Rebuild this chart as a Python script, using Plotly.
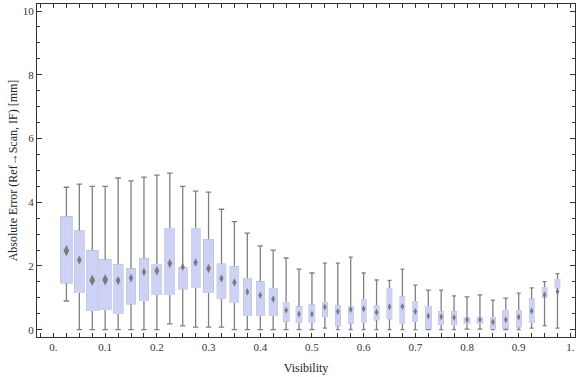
import numpy as np
import plotly.graph_objects as go

# Visibility bin centres
visibility = [0.025, 0.05, 0.075, 0.1, 0.125, 0.15, 0.175, 0.2, 0.225, 0.25,
              0.275, 0.3, 0.325, 0.35, 0.375, 0.4, 0.425, 0.45, 0.475, 0.5,
              0.525, 0.55, 0.575, 0.6, 0.625, 0.65, 0.675, 0.7, 0.725, 0.75,
              0.775, 0.8, 0.825, 0.85, 0.875, 0.9, 0.925, 0.95, 0.975]

whisker_high = [4.47, 4.57, 4.50, 4.50, 4.76, 4.67, 4.79, 4.85, 4.91, 4.50,
                4.35, 4.32, 3.78, 3.39, 3.03, 2.63, 2.50, 2.25, 1.90, 1.78,
                2.09, 2.09, 2.28, 1.78, 1.56, 1.55, 1.90, 1.40, 1.24, 1.24,
                1.06, 1.03, 1.09, 0.93, 0.99, 1.15, 1.31, 1.51, 1.76]
q3 = [3.53, 3.09, 2.47, 2.18, 2.03, 1.90, 2.22, 2.04, 3.17, 1.93,
      3.17, 2.82, 2.05, 1.97, 1.60, 1.50, 1.29, 0.85, 0.71, 0.78,
      0.85, 0.75, 0.72, 0.94, 0.75, 1.29, 1.03, 0.88, 0.72, 0.56,
      0.56, 0.38, 0.38, 0.38, 0.60, 0.60, 0.96, 1.32, 1.57]
mean = [2.48, 2.19, 1.55, 1.57, 1.54, 1.62, 1.81, 1.85, 2.08, 1.97,
        2.11, 1.92, 1.61, 1.48, 1.19, 1.08, 0.96, 0.61, 0.49, 0.49,
        0.71, 0.57, 0.63, 0.66, 0.55, 0.72, 0.73, 0.57, 0.43, 0.41,
        0.38, 0.31, 0.31, 0.24, 0.31, 0.40, 0.59, 1.10, 1.20]
q1 = [1.48, 1.17, 0.61, 0.64, 0.51, 0.82, 0.92, 1.11, 1.11, 1.29,
      1.33, 1.17, 0.98, 0.86, 0.45, 0.45, 0.45, 0.27, 0.23, 0.23,
      0.42, 0.13, 0.21, 0.23, 0.32, 0.35, 0.20, 0.26, 0.04, 0.17,
      0.17, 0.20, 0.20, 0.04, 0.06, 0.10, 0.23, 1.03, 1.32]
whisker_low = [0.90, 0.0, 0.0, 0.0, 0.0, 0.0, 0.0, 0.0, 0.18, 0.12,
               0.08, 0.08, 0.08, 0.0, 0.0, 0.0, 0.0, 0.0, 0.0, 0.0,
               0.05, 0.0, 0.0, 0.0, 0.0, 0.0, 0.0, 0.0, 0.0, 0.0,
               0.0, 0.02, 0.02, 0.0, 0.0, 0.0, 0.05, 0.13, 0.05]

x_ticks = [0.0, 0.1, 0.2, 0.3, 0.4, 0.5, 0.6, 0.7, 0.8, 0.9, 1.0]
x_ticktext = ["0.", "0.1", "0.2", "0.3", "0.4", "0.5", "0.6", "0.7", "0.8", "0.9", "1."]
y_ticks = [0, 2, 4, 6, 8, 10]
y_ticktext = ["0", "2", "4", "6", "8", "10"]

# style: drawn box widths in pixels
box_width_px = [10.7, 8.7, 11, 11, 9, 8.3, 8, 9, 9, 8, 8, 9, 8, 8, 7, 7, 7.3, 5, 5, 5,
                4, 4, 4, 4, 4, 4, 4, 4, 5, 4, 4, 5, 5, 4, 5, 4, 4, 4, 4]

PX_PER_UNIT = 517.2
FILL = "rgb(204,210,245)"
GRAY = "rgb(128,128,128)"
DIAM = "rgb(112,112,112)"
FONT = "Liberation Serif"

fig = go.Figure()
for i, x in enumerate(visibility):
    w = box_width_px[i] / PX_PER_UNIT
    cap_px = min(box_width_px[i], 5.5)
    lo = min(q1[i], q3[i])
    hi = max(q1[i], q3[i])
    med = float(np.clip(mean[i], lo, hi))
    # whiskers (gray)
    fig.add_trace(go.Box(
        x=[x], q1=[lo], median=[med], q3=[hi],
        lowerfence=[whisker_low[i]], upperfence=[whisker_high[i]],
        width=w, whiskerwidth=cap_px / box_width_px[i],
        line=dict(color=GRAY, width=1.3), fillcolor=FILL,
        boxpoints=False, showlegend=False, hoverinfo="skip"))
    # box body, no outline
    fig.add_trace(go.Box(
        x=[x], q1=[lo], median=[med], q3=[hi],
        lowerfence=[lo], upperfence=[hi],
        width=w, whiskerwidth=0,
        line=dict(color=FILL, width=1.3), fillcolor=FILL,
        boxpoints=False, showlegend=False, hoverinfo="skip"))

sizes = [max(5.0, 0.75 * wpx) for wpx in box_width_px]
fig.add_trace(go.Scatter(
    x=visibility, y=mean, mode="markers",
    marker=dict(symbol="diamond-tall", size=sizes, color=DIAM, opacity=0.9,
                line=dict(width=0)),
    showlegend=False, hoverinfo="skip"))

axis_common = dict(showline=True, linecolor="#333333", linewidth=1, mirror="ticks",
                   ticks="inside", tickcolor="#333333", showgrid=False, zeroline=False,
                   automargin=False,
                   tickfont=dict(family=FONT, size=11, color="#333333"))

fig.update_layout(
    width=576, height=377,
    margin=dict(l=37, r=1, t=4, b=40),
    paper_bgcolor="white", plot_bgcolor="white",
    boxmode="overlay",
    font=dict(family=FONT, size=12, color="#222222"),
    xaxis=dict(range=[-0.0319, 1.0089], tickvals=x_ticks, ticktext=x_ticktext,
               ticklen=4, tickwidth=1,
               minor=dict(dtick=0.025, tick0=0, ticks="inside", ticklen=4,
                          tickcolor="#333333", tickwidth=1),
               title=dict(text="Visibility", font=dict(family=FONT, size=12), standoff=11),
               **axis_common),
    yaxis=dict(range=[-0.229, 10.22], tickvals=y_ticks, ticktext=y_ticktext,
               ticklen=5, tickwidth=1,
               minor=dict(dtick=0.5, tick0=0, ticks="inside", ticklen=3,
                          tickcolor="#333333", tickwidth=1),
               title=dict(text="Absolute Error (Ref\u2192Scan, IF) [mm]",
                          font=dict(family=FONT, size=12), standoff=2),
               **axis_common),
)

fig.write_html("out.html", config={"displayModeBar": False},
               post_script="document.body.style.margin='0';document.body.style.overflow='hidden';")
